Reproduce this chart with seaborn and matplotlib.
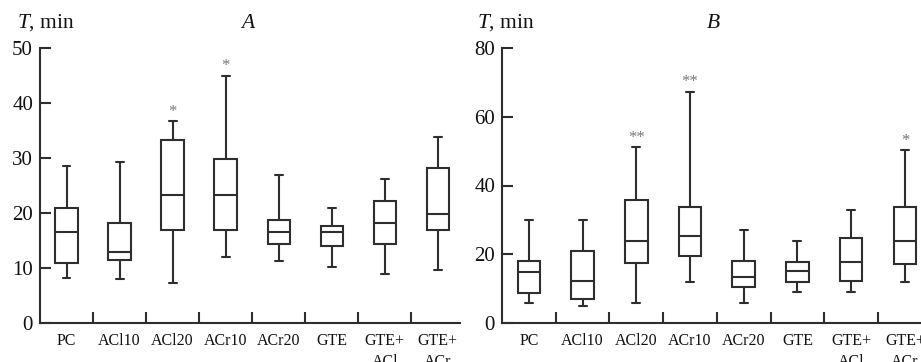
import numpy as np
import pandas as pd
import matplotlib
matplotlib.use("Agg")
import matplotlib.pyplot as plt
import seaborn as sns

# ---- data ----
categories = ["PC", "ACl10", "ACl20", "ACr10", "ACr20", "GTE", "GTE+ACl", "GTE+ACr"]
tick_labels = ["PC", "ACl10", "ACl20", "ACr10", "ACr20", "GTE", "GTE+\nACl", "GTE+\nACr"]

# Panel A (five-number summaries)
a_low = [8.2, 8.0, 7.2, 12.0, 11.3, 10.1, 9.0, 9.6]
a_q1 = [11.0, 11.45, 17.0, 17.0, 14.4, 14.0, 14.4, 16.9]
a_med = [16.5, 13.0, 23.3, 23.3, 16.5, 16.5, 18.1, 19.9]
a_q3 = [21.0, 18.1, 33.3, 29.8, 18.7, 17.7, 22.1, 28.2]
a_high = [28.6, 29.2, 36.7, 45.0, 27.0, 21.0, 26.2, 33.8]
a_stars = ["", "", "*", "*", "", "", "", ""]

# Panel B (five-number summaries)
b_low = [6.0, 5.0, 6.0, 11.9, 6.0, 9.1, 9.1, 11.9]
b_q1 = [8.8, 7.05, 17.6, 19.5, 10.4, 12.0, 12.2, 17.3]
b_med = [15.0, 12.4, 24.0, 25.3, 13.4, 15.1, 17.9, 24.0]
b_q3 = [18.0, 21.1, 35.8, 33.8, 18.0, 17.8, 24.8, 33.7]
b_high = [30.0, 30.0, 51.1, 67.2, 27.1, 23.9, 33.0, 50.3]
b_stars = ["", "", "**", "**", "", "", "", "*"]


def long_frame(low, q1, med, q3, high):
    rows = []
    for c, vals in zip(categories, zip(low, q1, med, q3, high)):
        for v in vals:
            rows.append({"group": c, "T": v})
    return pd.DataFrame(rows)


dfA = long_frame(a_low, a_q1, a_med, a_q3, a_high)
dfB = long_frame(b_low, b_q1, b_med, b_q3, b_high)

sns.set_theme(style="ticks")
plt.rcParams["font.family"] = ["Liberation Serif", "DejaVu Serif"]
plt.rcParams["mathtext.fontset"] = "custom"
plt.rcParams["mathtext.it"] = "Liberation Serif:italic"
plt.rcParams["mathtext.rm"] = "Liberation Serif"

LC = "#2e2e2e"
fig = plt.figure(figsize=(9.21, 3.62), dpi=100)
axA = fig.add_axes([40 / 921, 39 / 362, 420 / 921, 275 / 362])
axB = fig.add_axes([502 / 921, 38.7 / 362, 419 / 921, 275.6 / 362])


def draw(ax, df, ymax, yticks, xright, highs, stars, letter, lx, tx):
    sns.boxplot(data=df, x="group", y="T", order=categories, ax=ax,
                whis=(0, 100), showfliers=False, width=0.42,
                color="white", linecolor=LC, linewidth=1.5, saturation=1,
                capwidths=0.15)
    ax.set_xlim(-0.5, xright)
    ax.set_ylim(0, ymax)
    ax.set_xlabel("")
    ax.set_ylabel("")
    sns.despine(ax=ax)
    for s in ["left", "bottom"]:
        ax.spines[s].set_linewidth(1.5)
        ax.spines[s].set_color(LC)
    ax.set_yticks(yticks)
    ax.tick_params(axis="y", direction="in", length=8, width=1.5, color=LC,
                   labelsize=15, pad=5, labelcolor="#111111")
    ax.set_xticks(range(len(categories)))
    ax.set_xticklabels(tick_labels, fontsize=11.5, linespacing=1.4, color="#111111")
    ax.tick_params(axis="x", which="major", length=0, pad=7)
    ax.set_xticks(np.arange(0.5, len(categories) - 1, 1.0), minor=True)
    ax.tick_params(axis="x", which="minor", direction="in", length=8, width=1.5, color=LC)
    for i, (h, s) in enumerate(zip(highs, stars)):
        if s:
            ax.annotate(s, xy=(i, h), xytext=(0, 1), textcoords="offset points",
                        ha="center", va="bottom", fontsize=12, color="#777777")
    fig.text(tx, 1 - 28 / 362, "$T$, min", fontsize=15.5, ha="left", va="baseline", color="#111111")
    fig.text(lx, 1 - 28 / 362, "$" + letter + "$", fontsize=15.5, ha="center", va="baseline", color="#111111")


draw(axA, dfA, 50, [0, 10, 20, 30, 40, 50], 7.42, a_high, a_stars, "A", 248 / 921, 17 / 921)
draw(axB, dfB, 80, [0, 20, 40, 60, 80], 7.3, b_high, b_stars, "B", 713 / 921, 477 / 921)

fig.savefig("out.png", dpi=100)
